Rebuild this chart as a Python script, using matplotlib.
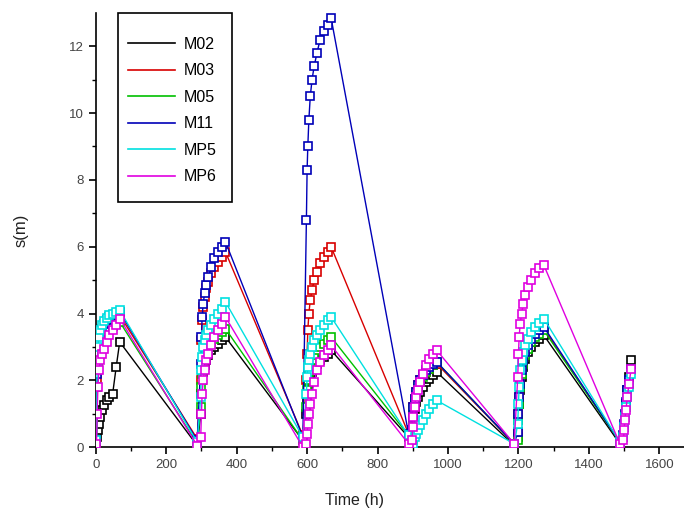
import matplotlib
matplotlib.use("Agg")
import matplotlib.pyplot as plt
from matplotlib.lines import Line2D
from matplotlib.patches import Rectangle

plt.rcParams['font.family'] = ['Liberation Sans', 'DejaVu Sans']

# measurement times (h), one row per recovery cycle
time_h = [2, 4, 6, 9, 13, 18, 24, 31, 39, 48, 58, 68,
          288, 298, 300, 302, 305, 309, 314, 320, 328, 337, 347, 357, 368,
          588, 598, 600, 602, 605, 609, 614, 620, 628, 637, 647, 658, 668,
          888, 898, 900, 902, 905, 909, 914, 920, 928, 937, 947, 957, 968,
          1188, 1198, 1200, 1202, 1205, 1209, 1214, 1220, 1228, 1237, 1247, 1259, 1272,
          1488, 1498, 1500, 1502, 1505, 1509, 1514, 1520]

m02 = [0.1, 0.3, 0.5, 0.7, 0.9, 1.1, 1.25, 1.4, 1.5, 1.6, 2.4, 3.15,
       0.05, 1.0, 1.6, 2.0, 2.25, 2.45, 2.6, 2.75, 2.9, 3.0, 3.1, 3.2, 3.3,
       0.2, 1.0, 1.4, 1.7, 1.95, 2.1, 2.25, 2.4, 2.5, 2.6, 2.7, 2.8, 2.9,
       0.3, 0.4, 0.7, 0.95, 1.15, 1.35, 1.5, 1.65, 1.8, 1.95, 2.05, 2.15, 2.25,
       0.05, 0.3, 0.8, 1.3, 1.7, 2.1, 2.4, 2.65, 2.85, 3.0, 3.15, 3.25, 3.35,
       0.1, 0.3, 0.6, 0.9, 1.3, 1.7, 2.1, 2.6]
m03 = [0.15, 2.0, 2.6, 3.0, 3.2, 3.4, 3.55, 3.65, 3.75, 3.85, 3.9, 3.95,
       0.25, 2.0, 3.2, 3.8, 4.2, 4.5, 4.75, 4.95, 5.2, 5.4, 5.55, 5.7, 5.85,
       0.35, 2.0, 2.8, 3.5, 4.0, 4.4, 4.7, 5.0, 5.25, 5.5, 5.7, 5.85, 6.0,
       0.4, 0.5, 0.9, 1.2, 1.45, 1.65, 1.85, 2.0, 2.15, 2.25, 2.35, 2.45, 2.5,
       0.1, 0.4, 1.0, 1.5, 1.9, 2.3, 2.6, 2.85, 3.05, 3.25, 3.4, 3.5, 3.55,
       0.15, 0.3, 0.6, 0.9, 1.2, 1.55, 1.9, 2.3]
m05 = [0.15, 1.8, 2.4, 2.8, 3.0, 3.2, 3.35, 3.45, 3.55, 3.62, 3.68, 3.75,
       0.1, 1.2, 1.8, 2.2, 2.45, 2.65, 2.8, 2.95, 3.1, 3.25, 3.35, 3.45, 3.55,
       0.2, 1.2, 1.7, 2.0, 2.25, 2.45, 2.6, 2.75, 2.9, 3.0, 3.1, 3.2, 3.3,
       0.35, 0.5, 0.85, 1.15, 1.4, 1.6, 1.8, 1.95, 2.1, 2.25, 2.35, 2.45, 2.55,
       0.1, 0.2, 0.8, 1.3, 1.8, 2.2, 2.5, 2.75, 2.95, 3.15, 3.3, 3.4, 3.5,
       0.15, 0.3, 0.6, 0.9, 1.25, 1.6, 1.95, 2.35]
m11 = [0.2, 2.2, 2.8, 3.1, 3.35, 3.55, 3.7, 3.8, 3.9, 3.95, 4.0, 4.05,
       0.2, 2.5, 3.3, 3.9, 4.3, 4.6, 4.85, 5.1, 5.4, 5.65, 5.85, 6.0, 6.15,
       0.3, 6.8, 8.3, 9.0, 9.8, 10.5, 11.0, 11.4, 11.8, 12.2, 12.45, 12.65, 12.85,
       0.4, 0.5, 0.9, 1.2, 1.45, 1.65, 1.85, 2.0, 2.15, 2.3, 2.4, 2.5, 2.55,
       0.1, 0.45, 1.0, 1.5, 1.9, 2.3, 2.6, 2.85, 3.05, 3.25, 3.4, 3.5, 3.6,
       0.15, 0.35, 0.7, 1.0, 1.35, 1.7, 2.0, 2.35]
mp5 = [0.2, 2.4, 3.0, 3.3, 3.5, 3.65, 3.78, 3.88, 3.95, 4.0, 4.05, 4.1,
       0.15, 1.5, 2.3, 2.7, 3.0, 3.2, 3.35, 3.5, 3.65, 3.85, 4.0, 4.15, 4.35,
       0.3, 1.6, 2.1, 2.4, 2.6, 2.8, 3.0, 3.2, 3.35, 3.5, 3.65, 3.8, 3.9,
       0.35, 0.05, 0.1, 0.2, 0.3, 0.4, 0.5, 0.65, 0.8, 1.0, 1.15, 1.3, 1.4,
       0.1, 0.7, 1.3, 1.8, 2.3, 2.6, 2.85, 3.05, 3.25, 3.45, 3.6, 3.72, 3.85,
       0.15, 0.3, 0.6, 0.9, 1.2, 1.5, 1.8, 2.2]
mp6 = [0.1, 1.0, 1.8, 2.3, 2.6, 2.8, 2.95, 3.15, 3.35, 3.5, 3.65, 3.85,
       0.05, 0.3, 1.0, 1.6, 2.0, 2.3, 2.6, 2.8, 3.05, 3.3, 3.5, 3.7, 3.9,
       0.0, 0.1, 0.4, 0.7, 1.0, 1.3, 1.6, 1.95, 2.3, 2.55, 2.75, 2.9, 3.05,
       0.1, 0.2, 0.6, 0.9, 1.2, 1.5, 1.7, 1.95, 2.2, 2.45, 2.65, 2.8, 2.9,
       0.1, 2.1, 2.8, 3.3, 3.7, 4.0, 4.3, 4.55, 4.8, 5.0, 5.2, 5.35, 5.45,
       0.1, 0.2, 0.5, 0.8, 1.1, 1.5, 1.9, 2.35]

names = ['M02', 'M03', 'M05', 'M11', 'MP5', 'MP6']
series = [m02, m03, m05, m11, mp5, mp6]
colors = ['#000000', '#d80000', '#00c000', '#0000b8', '#00e0e0', '#e000e0']

fig = plt.figure(figsize=(6.84, 5.14), dpi=100)
ax = fig.add_axes([0.140, 0.130, 0.860, 0.845])

for i, (vals, c) in enumerate(zip(series, colors)):
    ax.plot(time_h, vals, color=c, lw=1.0, marker='s', markersize=6.3,
            markerfacecolor='white', markeredgecolor=c, markeredgewidth=1.2,
            zorder=2 + i)

ax.set_xlim(0, 1670)
ax.set_ylim(0, 13)
ax.set_xticks(range(0, 1601, 200))
ax.set_xticks(range(100, 1601, 200), minor=True)
ax.set_yticks(range(0, 13, 2))
ax.set_yticks(range(1, 13, 2), minor=True)
ax.spines['top'].set_visible(False)
ax.spines['right'].set_visible(False)
ax.spines['left'].set_linewidth(1.2)
ax.spines['bottom'].set_linewidth(1.2)
ax.tick_params(which='major', direction='out', length=5, width=1.2,
               labelsize=9.5, labelcolor='#444444')
ax.tick_params(which='minor', direction='out', length=3, width=1.0)

ax.set_xlabel('Time (h)', fontsize=11.5, color='#222222')
ax.xaxis.set_label_coords(0.44, -0.105)
ax.set_ylabel('s(m)', fontsize=12, color='#222222')
ax.yaxis.set_label_coords(-0.115, 0.5)

# legend box drawn separately so its padding matches the original
ax.add_patch(Rectangle((0.0374, 0.5645), 0.194, 0.4355, transform=ax.transAxes,
                       facecolor='white', edgecolor='black', lw=1.2,
                       zorder=20, clip_on=False))
handles = [Line2D([], [], color=c, lw=1.2) for c in colors]
leg = ax.legend(handles, names, loc='upper left', bbox_to_anchor=(0.054, 0.945),
                fontsize=11.5, frameon=False, handlelength=3.0,
                handletextpad=0.5, labelspacing=0.72, borderpad=0,
                borderaxespad=0)
leg.set_zorder(21)

fig.savefig('out.png', dpi=100)
